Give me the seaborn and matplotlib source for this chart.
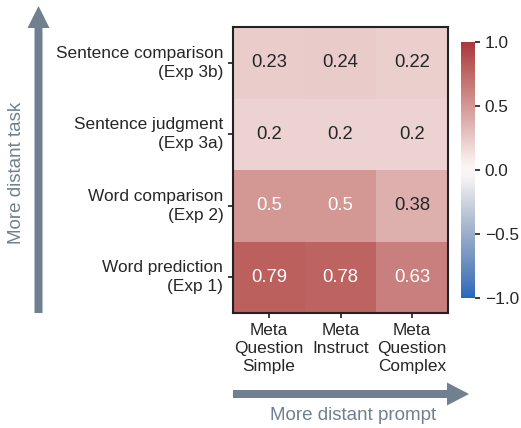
import numpy as np
import pandas as pd
import matplotlib
matplotlib.use("Agg")
import matplotlib.pyplot as plt
import seaborn as sns
from matplotlib.patches import FancyArrow

sns.set_theme(style="ticks")
plt.rcParams['font.family'] = ['Liberation Sans', 'DejaVu Sans']

tasks = ["Sentence comparison\n(Exp 3b)", "Sentence judgment\n(Exp 3a)",
         "Word comparison\n(Exp 2)", "Word prediction\n(Exp 1)"]
prompts = ["Meta\nQuestion\nSimple", "Meta\nInstruct", "Meta\nQuestion\nComplex"]
row_3b = [0.23, 0.24, 0.22]
row_3a = [0.2, 0.2, 0.2]
row_2 = [0.5, 0.5, 0.38]
row_1 = [0.79, 0.78, 0.63]

df = pd.DataFrame([row_3b, row_3a, row_2, row_1], index=tasks, columns=prompts)

W, H = 521, 428
fig = plt.figure(figsize=(W / 100, H / 100), dpi=100)
ax = fig.add_axes([233 / W, 1 - 313 / H, 215 / W, 286 / H])
cax = fig.add_axes([461 / W, 1 - 298 / H, 14 / W, 256 / H])

sns.heatmap(df, ax=ax, cbar_ax=cax, cmap="vlag", vmin=-1, vmax=1, annot=True,
            annot_kws={"fontsize": 13.3})
for s in ax.spines.values():
    s.set_visible(True)
    s.set_linewidth(1.5)
    s.set_color("#222222")
ax.tick_params(axis='both', labelsize=12.4, length=3.5, colors='#262626')
ax.set_yticklabels(ax.get_yticklabels(), rotation=0, ha='right', fontsize=12.4,
                   linespacing=1.35)
ax.set_xticklabels(ax.get_xticklabels(), rotation=0, fontsize=12.4, linespacing=1.25)
ax.set_xlabel("")
ax.set_ylabel("")
cax.tick_params(labelsize=12.4, length=3.5)
cax.set_yticks([-1.0, -0.5, 0.0, 0.5, 1.0])
cax.set_yticklabels(["\u22121.0", "\u22120.5", "0.0", "0.5", "1.0"])
for s in cax.spines.values():
    s.set_visible(False)

arrow_color = "#708090"
# vertical arrow
fig.patches.append(FancyArrow(38.5 / W, 1 - 313 / H, 0, (313 - 6) / H, width=8 / W,
                              head_width=22 / W, head_length=22 / H,
                              length_includes_head=True, color=arrow_color, lw=0,
                              transform=fig.transFigure, figure=fig))
# horizontal arrow
fig.patches.append(FancyArrow(233 / W, 1 - 394 / H, (469 - 233) / W, 0, width=8 / H,
                              head_width=23 / H, head_length=22 / W,
                              length_includes_head=True, color=arrow_color, lw=0,
                              transform=fig.transFigure, figure=fig))
fig.text(17 / W, 1 - 173 / H, "More distant task", rotation=90, ha='center', va='center',
         fontsize=13.5, color=arrow_color)
fig.text(353 / W, 1 - 416 / H, "More distant prompt", ha='center', va='center',
         fontsize=13.5, color=arrow_color)

fig.savefig("out.png", dpi=100)
